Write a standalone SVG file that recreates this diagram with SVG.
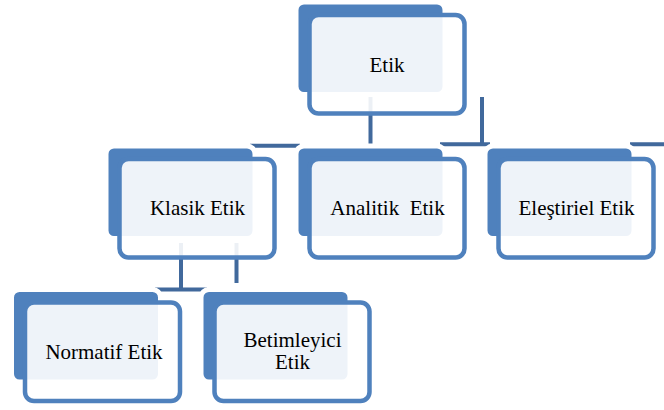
<svg xmlns="http://www.w3.org/2000/svg" width="664" height="410" viewBox="0 0 664 410">
  <style>
    .conn { fill: none; stroke: #41699C; stroke-width: 4; stroke-linecap: butt; }
    .back { fill: #4F81BD; stroke: #FFFFFF; stroke-width: 5; }
    .front { fill: #FFFFFF; fill-opacity: 0.9; stroke: #4F81BD; stroke-width: 4.5; }
    .lbl { font-family: "Liberation Serif", "Times New Roman", serif; font-size: 21px; fill: #000000; text-anchor: middle; white-space: pre; }
  </style>
  <rect width="664" height="410" fill="#FFFFFF"/>

  <!-- connectors sit underneath the node cards -->
  <g id="connectors">
    <path class="conn" d="M370.5,95 V146" stroke-width="4.5"/>
    <path class="conn" d="M482,97 V146"/>
    <path class="conn" d="M250,145.8 H300"/>
    <path class="conn" d="M440,144.3 H490"/>
    <path class="conn" d="M630,144.3 H664"/>
    <path class="conn" d="M181,243 V291"/>
    <path class="conn" d="M236.5,243 V283"/>
    <path class="conn" d="M155,289.5 H207"/>
  </g>

  <g id="node-etik">
    <rect class="back" x="296" y="2" width="149" height="92.5" rx="8"/>
    <rect class="front" x="309.5" y="15" width="155" height="98.5" rx="9"/>
    <text class="lbl" x="387" y="72">Etik</text>
  </g>

  <g id="node-klasik">
    <rect class="back" x="106" y="146" width="149" height="92.5" rx="8"/>
    <rect class="front" x="119.5" y="159" width="155" height="98.5" rx="9"/>
    <text class="lbl" x="197.5" y="215">Klasik Etik</text>
  </g>

  <g id="node-analitik">
    <rect class="back" x="296" y="146" width="149" height="92.5" rx="8"/>
    <rect class="front" x="309.5" y="159" width="155" height="98.5" rx="9"/>
    <text class="lbl" x="387.5" y="215">Analitik  Etik</text>
  </g>

  <g id="node-elestiriel">
    <rect class="back" x="485" y="146" width="149" height="92.5" rx="8"/>
    <rect class="front" x="498.5" y="159" width="155" height="98.5" rx="9"/>
    <text class="lbl" x="576.5" y="215">Eleştiriel Etik</text>
  </g>

  <g id="node-normatif">
    <rect class="back" x="11.5" y="289.5" width="149" height="92.5" rx="8"/>
    <rect class="front" x="25" y="302.5" width="155" height="98.5" rx="9"/>
    <text class="lbl" x="104" y="358.5">Normatif Etik</text>
  </g>

  <g id="node-betimleyici">
    <rect class="back" x="201" y="289.5" width="149" height="92.5" rx="8"/>
    <rect class="front" x="214.5" y="302.5" width="155" height="98.5" rx="9"/>
    <text class="lbl" x="292.5" y="347">Betimleyici</text>
    <text class="lbl" x="292.5" y="369">Etik</text>
  </g>
</svg>
